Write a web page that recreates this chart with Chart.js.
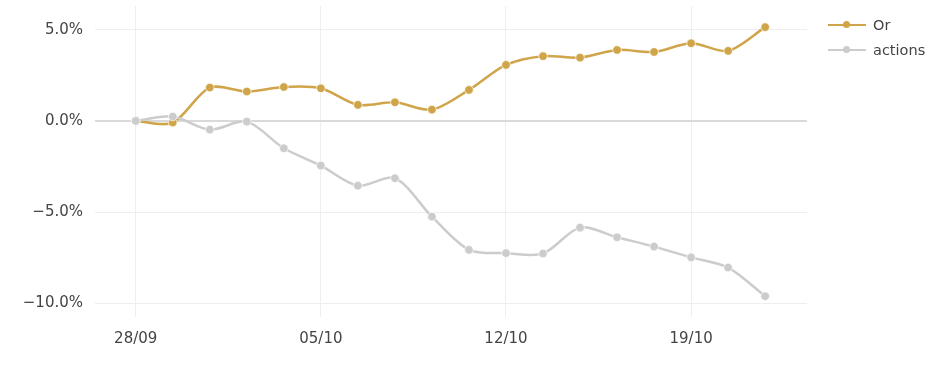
<!DOCTYPE html>
<html>
<head>
<meta charset="utf-8">
<script src="https://cdn.jsdelivr.net/npm/chart.js@4"></script>
<style>
    body { margin: 0; background: #fff; }
    #wrap { position: relative; width: 940px; height: 370px; }
    #legend { position: absolute; left: 828px; top: 12px; font-family: "DejaVu Sans", sans-serif; font-size: 14.5px; color: #444; }
    .item { height: 25px; display: flex; align-items: center; }
    .sym { position: relative; width: 38px; height: 10px; margin-right: 7px; }
    .sym .ln { position: absolute; left: 0; right: 0; top: 4px; height: 2px; }
    .sym .dot { position: absolute; left: 15px; top: 1.5px; width: 7px; height: 7px; border-radius: 50%; }
</style>
</head>
<body>
<div id="wrap">
    <canvas id="chart" width="940" height="370"></canvas>
    <div id="legend"></div>
</div>
<script>
const dates = ['28/09', '29/09', '30/09', '01/10', '02/10', '05/10', '06/10', '07/10', '08/10',
               '09/10', '12/10', '13/10', '14/10', '15/10', '16/10', '19/10', '20/10', '21/10'];
const orValues = [0, -0.09, 1.83, 1.61, 1.86, 1.79, 0.88, 1.02, 0.62,
                  1.70, 3.07, 3.55, 3.47, 3.89, 3.78, 4.26, 3.84, 5.14];
const actionsValues = [0, 0.24, -0.48, -0.04, -1.5, -2.45, -3.55, -3.14, -5.25,
                       -7.07, -7.25, -7.27, -5.85, -6.38, -6.89, -7.48, -8.04, -9.61];
const yTicks = [-10, -5, 0, 5];
const xTicks = [0, 5, 10, 15];

const gold = '#d0a54a';
const grey = '#cccccc';
const font = {family: '"DejaVu Sans", sans-serif', size: 15};

function to_points(values) {
    return values.map((v, i) => ({x: i, y: v}));
}

function fmt_pct(v) {
    const s = Math.abs(v).toFixed(1) + '%';
    return v < 0 ? '\u2212' + s : s;
}

function make_dataset(label, values, color, order) {
    return {
        label: label,
        data: to_points(values),
        borderColor: color,
        backgroundColor: color,
        borderWidth: 2.5,
        pointRadius: 4.3,
        pointBorderWidth: 1,
        pointBorderColor: 'rgba(255,255,255,0.7)',
        pointBackgroundColor: color,
        tension: 0.3,
        order: order
    };
}

const datasets = [
    make_dataset('Or', orValues, gold, 1),
    make_dataset('actions', actionsValues, grey, 0)
];

const ctx = document.getElementById('chart').getContext('2d');
new Chart(ctx, {
    type: 'line',
    data: {datasets: datasets},
    options: {
        responsive: false,
        animation: false,
        layout: {padding: {top: 6, right: 133, left: 0, bottom: 0}},
        plugins: {legend: {display: false}, tooltip: {enabled: false}},
        scales: {
            x: {
                type: 'linear',
                min: -1.1,
                max: 18.13,
                afterBuildTicks: (scale) => { scale.ticks = xTicks.map(v => ({value: v})); },
                afterFit: (scale) => {
                    scale.height = 53;
                    scale.paddingLeft = 0;
                    scale.paddingRight = 0;
                },
                ticks: {
                    font: font,
                    color: '#444',
                    padding: 13,
                    maxRotation: 0,
                    autoSkip: false,
                    callback: (v) => dates[v]
                },
                grid: {color: '#eeeeee', lineWidth: 1, drawTicks: false},
                border: {display: false}
            },
            y: {
                min: -10.75,
                max: 6.3,
                afterBuildTicks: (scale) => { scale.ticks = yTicks.map(v => ({value: v})); },
                afterFit: (scale) => {
                    scale.width = 95;
                    scale.paddingTop = 0;
                    scale.paddingBottom = 0;
                },
                ticks: {
                    font: font,
                    color: '#444',
                    padding: 12,
                    callback: (v) => fmt_pct(v)
                },
                grid: {
                    color: (c) => c.tick && c.tick.value === 0 ? '#d9d9d9' : '#eeeeee',
                    lineWidth: (c) => c.tick && c.tick.value === 0 ? 2 : 1,
                    drawTicks: false
                },
                border: {display: false}
            }
        }
    }
});

// html legend
const legend = document.getElementById('legend');
for (const ds of datasets) {
    const item = document.createElement('div');
    item.className = 'item';
    item.innerHTML = '<span class="sym"><span class="ln" style="background:' + ds.borderColor +
        '"></span><span class="dot" style="background:' + ds.borderColor + '"></span></span>' +
        '<span>' + ds.label + '</span>';
    legend.appendChild(item);
}
</script>
</body>
</html>
